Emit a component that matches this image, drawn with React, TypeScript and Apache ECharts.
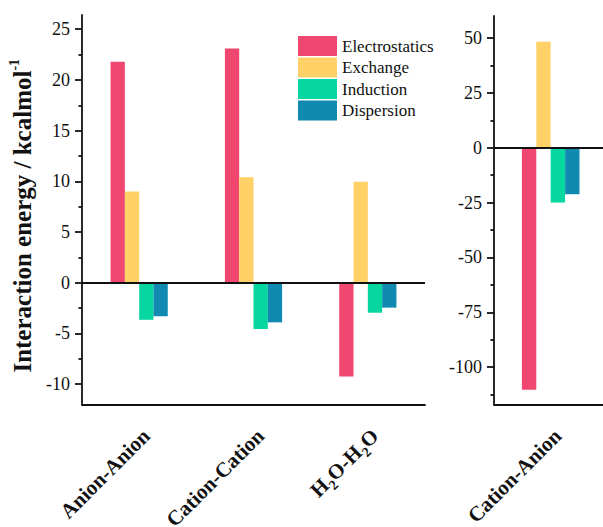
import React, { useEffect, useRef } from "react";
import * as echarts from "echarts";

const categoriesLeft = ["Anion-Anion", "Cation-Cation", "H2O-H2O"];
const electrostaticsLeft = [21.8, 23.1, -9.25];
const exchangeLeft = [9.0, 10.4, 9.95];
const inductionLeft = [-3.65, -4.55, -2.95];
const dispersionLeft = [-3.3, -3.9, -2.45];

const categoriesRight = ["Cation-Anion"];
const electrostaticsRight = [-110.3];
const exchangeRight = [48.3];
const inductionRight = [-25.0];
const dispersionRight = [-21.2];

const seriesNames = ["Electrostatics", "Exchange", "Induction", "Dispersion"];
const colors = ["#EF476F", "#FFD166", "#06D6A0", "#118AB2"];

const leftMajorTicks = [-10, -5, 0, 5, 10, 15, 20, 25];
const leftMinorTicks = [-7.5, -2.5, 2.5, 7.5, 12.5, 17.5, 22.5];
const rightMajorTicks = [-100, -75, -50, -25, 0, 25, 50];
const rightMinorTicks = [-112.5, -87.5, -62.5, -37.5, -12.5, 12.5, 37.5];

const FONT = "'Liberation Serif', 'Times New Roman', serif";
const INK = "#111";

const GRID0 = { left: 82, top: 15, width: 343, height: 389.5 };
const GRID1 = { left: 494, top: 16, width: 113.4, height: 388.5 };

function xLabelFormatter(v: string) {
  if (v === "H2O-H2O") return "{b|H}{s|2}{b|O-H}{s|2}{b|O}";
  return `{b|${v}}`;
}

const xLabelRich = {
  b: { fontSize: 21, fontWeight: "bold", fontFamily: FONT, color: INK, lineHeight: 30 },
  s: { fontSize: 14, fontWeight: "bold", fontFamily: FONT, color: INK, lineHeight: 14, verticalAlign: "bottom" },
};

function makeXAxis(gridIndex: number, data: string[]) {
  return {
    type: "category",
    gridIndex,
    position: "bottom",
    data,
    axisLine: { onZero: false, lineStyle: { color: INK, width: 1.8 } },
    axisTick: { alignWithLabel: true, length: 6, lineStyle: { color: INK, width: 1.8 } },
    axisLabel: {
      interval: 0,
      rotate: 45,
      margin: 35,
      padding: [0, -10, 0, 0],
      fontFamily: FONT,
      formatter: xLabelFormatter,
      rich: xLabelRich,
    },
    splitLine: { show: false },
  };
}

function makeMainY(gridIndex: number, min: number, max: number, majors: number[], extra: any = {}) {
  return {
    type: "value",
    gridIndex,
    position: "left",
    min,
    max,
    axisLine: { show: true, onZero: false, lineStyle: { color: INK, width: 1.8 } },
    axisTick: { show: true, length: 7, customValues: majors, lineStyle: { color: INK, width: 1.8 } },
    axisLabel: { customValues: majors, margin: 12, fontSize: 18, fontFamily: FONT, color: INK },
    splitLine: { show: false },
    ...extra,
  };
}

// minor ticks: an unlabeled companion axis moved onto the left edge of the grid
function makeMinorY(gridIndex: number, min: number, max: number, minors: number[], gridWidth: number) {
  return {
    type: "value",
    gridIndex,
    position: "right",
    offset: -gridWidth,
    min,
    max,
    axisLine: { show: false, onZero: false },
    axisTick: { show: true, inside: true, length: 3.5, customValues: minors, lineStyle: { color: INK, width: 1.8 } },
    axisLabel: { show: false },
    splitLine: { show: false },
  };
}

function zeroLine() {
  return {
    silent: true,
    symbol: ["none", "none"],
    label: { show: false },
    lineStyle: { color: INK, width: 2, type: "solid" },
    emphasis: { disabled: true },
    data: [{ yAxis: 0 }],
  };
}

export default function App() {
  const ref = useRef<HTMLDivElement>(null);
  useEffect(() => {
    if (!ref.current) return;
    const chart = echarts.init(ref.current, null, { renderer: "svg" });
    const leftData = [electrostaticsLeft, exchangeLeft, inductionLeft, dispersionLeft];
    const rightData = [electrostaticsRight, exchangeRight, inductionRight, dispersionRight];
    const series: any[] = [];
    seriesNames.forEach((name, i) => {
      series.push({
        name,
        type: "bar",
        xAxisIndex: 0,
        yAxisIndex: 0,
        data: leftData[i],
        barWidth: 14.3,
        barGap: "0%",
        itemStyle: { color: colors[i] },
        ...(i === 0 ? { markLine: zeroLine() } : {}),
      });
    });
    seriesNames.forEach((name, i) => {
      series.push({
        name,
        type: "bar",
        xAxisIndex: 1,
        yAxisIndex: 2,
        data: rightData[i],
        barWidth: 14.4,
        barGap: "0%",
        itemStyle: { color: colors[i] },
        ...(i === 0 ? { markLine: zeroLine() } : {}),
      });
    });

    chart.setOption({
      animation: false,
      backgroundColor: "#fff",
      textStyle: { fontFamily: FONT },
      grid: [
        { ...GRID0, containLabel: false, outerBoundsMode: "none" },
        { ...GRID1, containLabel: false, outerBoundsMode: "none" },
      ],
      legend: {
        data: seriesNames,
        orient: "vertical",
        left: 298,
        top: 36,
        padding: 0,
        itemWidth: 39,
        itemHeight: 20,
        itemGap: 1.5,
        icon: "rect",
        selectedMode: false,
        textStyle: { fontSize: 17, fontFamily: FONT, color: INK },
      },
      xAxis: [makeXAxis(0, categoriesLeft), makeXAxis(1, categoriesRight)],
      yAxis: [
        makeMainY(0, -12, 26.4, leftMajorTicks, {
          name: "{m|Interaction energy / kcalmol}{p|-1}",
          nameLocation: "middle",
          nameGap: 40,
          nameTextStyle: {
            fontFamily: FONT,
            padding: [0, 12, 0, 0],
            rich: {
              m: { fontSize: 25, fontWeight: "bold", fontFamily: FONT, color: INK, lineHeight: 30 },
              p: { fontSize: 14, fontWeight: "bold", fontFamily: FONT, color: INK, lineHeight: 14, verticalAlign: "top" },
            },
          },
        }),
        makeMinorY(0, -12, 26.4, leftMinorTicks, GRID0.width),
        makeMainY(1, -117, 60, rightMajorTicks),
        makeMinorY(1, -117, 60, rightMinorTicks, GRID1.width),
      ],
      series,
    });
    return () => chart.dispose();
  }, []);
  return (
    <div
      ref={ref}
      style={{ position: "fixed", left: 0, top: 0, width: 603, height: 527 }}
    />
  );
}
